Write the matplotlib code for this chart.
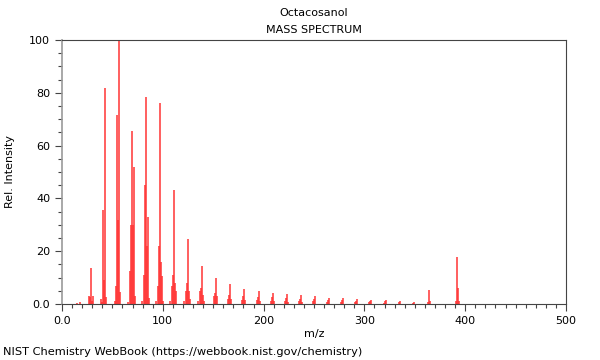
import numpy as np
import matplotlib
matplotlib.use("Agg")
import matplotlib.pyplot as plt
from matplotlib.ticker import MultipleLocator, FuncFormatter

# peaks (m/z, relative intensity)
mz = [15, 18, 27, 28, 29, 30, 31,
      39, 40, 41, 42, 43, 44,
      53, 54, 55, 56, 57, 58,
      65, 67, 68, 69, 70, 71, 72,
      79, 81, 82, 83, 84, 85, 86,
      93, 95, 96, 97, 98, 99, 100,
      107, 109, 110, 111, 112, 113,
      121, 123, 124, 125, 126, 127,
      135, 137, 138, 139, 140, 141,
      151, 152, 153, 154,
      165, 166, 167, 168,
      179, 180, 181, 182,
      193, 194, 195, 196,
      207, 208, 209, 210,
      221, 222, 223, 224,
      235, 236, 237, 238,
      249, 250, 251,
      263, 264, 265,
      277, 278, 279,
      291, 292, 293,
      305, 306, 307,
      319, 320, 321,
      334, 335,
      348, 349,
      363, 364, 365,
      391, 392, 393, 394]
intensity = [0.3, 0.6, 3.0, 2.5, 13.5, 1.0, 3.2,
             2.0, 0.8, 35.5, 9.0, 82.0, 2.8,
             1.2, 7.0, 71.5, 32.0, 100.0, 4.5,
             0.8, 12.5, 30.0, 65.5, 30.0, 52.0, 3.0,
             1.0, 11.0, 45.0, 78.5, 22.0, 33.0, 2.2,
             1.0, 7.0, 22.0, 76.0, 16.0, 10.5, 1.0,
             1.0, 7.0, 11.0, 43.0, 8.0, 5.0,
             1.0, 5.0, 8.0, 24.5, 5.0, 2.0,
             1.0, 5.0, 6.0, 14.5, 3.5, 1.0,
             3.0, 4.0, 10.0, 3.0,
             2.0, 3.5, 7.5, 2.0,
             1.5, 3.0, 5.5, 1.5,
             1.5, 2.5, 5.0, 1.2,
             1.3, 2.5, 4.3, 1.0,
             1.2, 2.2, 3.6, 0.8,
             1.2, 2.0, 3.3, 0.6,
             1.0, 1.8, 3.0,
             0.8, 1.6, 2.3,
             0.7, 1.5, 2.1,
             0.6, 1.3, 1.8,
             0.6, 1.2, 1.7,
             0.5, 1.0, 1.4,
             0.6, 1.0,
             0.5, 0.8,
             0.6, 5.3, 1.2,
             1.0, 17.8, 6.0, 1.2]

fig = plt.figure(figsize=(6, 3.6), dpi=100)
ax = fig.add_axes([62/600, 56/360, 504/600, 264/360])

ax.vlines(mz, 0, intensity, colors="#ff3030", linewidth=1.2, alpha=0.9)

ax.set_xlim(0, 500)
ax.set_ylim(0, 100)
ax.xaxis.set_major_locator(MultipleLocator(100))
ax.xaxis.set_minor_locator(MultipleLocator(10))
ax.yaxis.set_major_locator(MultipleLocator(20))
ax.yaxis.set_minor_locator(MultipleLocator(5))
fmt = FuncFormatter(lambda v, p: "0.0" if v == 0 else "%d" % v)
ax.xaxis.set_major_formatter(fmt)
ax.yaxis.set_major_formatter(fmt)
ax.tick_params(which="major", length=5, width=0.8, labelsize=8, color="#444444")
ax.tick_params(which="minor", length=3, width=0.8, color="#444444")

for s in ["top", "right", "bottom"]:
    ax.spines[s].set_color("#444444")
    ax.spines[s].set_linewidth(0.8)
ax.spines["left"].set_color("#999999")
ax.spines["left"].set_linewidth(1.2)

ax.set_xlabel("m/z", fontsize=8, labelpad=2)
ax.set_ylabel("Rel. Intensity", fontsize=8, labelpad=10)

xc = 314/600
fig.text(xc, 1 - 13/360, "Octacosanol", ha="center", va="center", fontsize=8)
fig.text(xc, 1 - 30/360, "MASS SPECTRUM", ha="center", va="center", fontsize=8)
fig.text(3/600, 1 - 352/360, "NIST Chemistry WebBook (https://webbook.nist.gov/chemistry)",
         ha="left", va="center", fontsize=8.2)

fig.savefig("out.png", dpi=100)
